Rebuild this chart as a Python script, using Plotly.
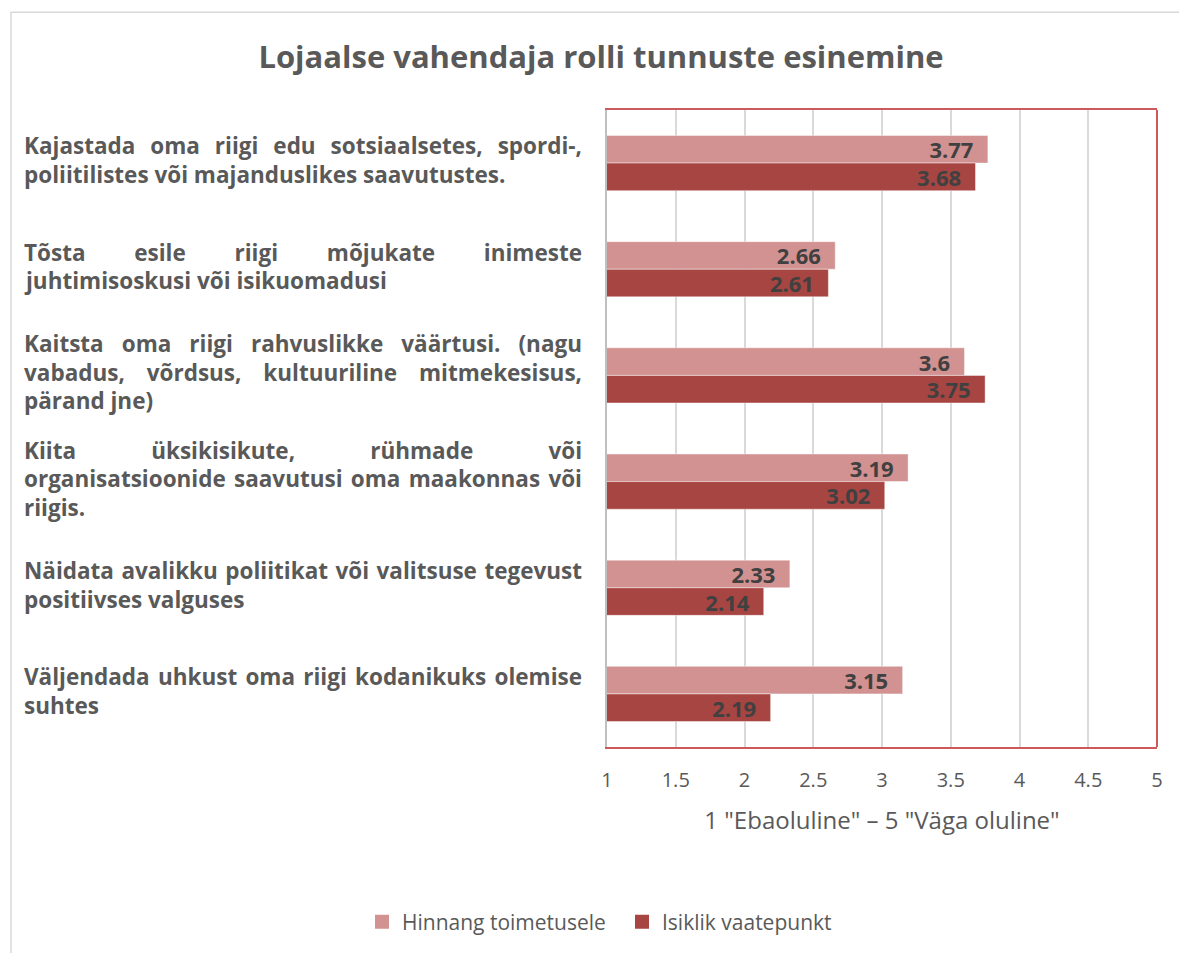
import plotly.graph_objects as go

# ── data ──────────────────────────────────────────────────────────────────────
LABEL_LINES = [
    ["Kajastada oma riigi edu sotsiaalsetes, spordi-,",
     "poliitilistes või majanduslikes saavutustes."],
    ["Tõsta esile riigi mõjukate inimeste",
     "juhtimisoskusi või isikuomadusi"],
    ["Kaitsta oma riigi rahvuslikke väärtusi. (nagu",
     "vabadus, võrdsus, kultuuriline mitmekesisus,",
     "pärand jne)"],
    ["Kiita üksikisikute, rühmade või",
     "organisatsioonide saavutusi oma maakonnas või",
     "riigis."],
    ["Näidata avalikku poliitikat või valitsuse tegevust",
     "positiivses valguses"],
    ["Väljendada uhkust oma riigi kodanikuks olemise",
     "suhtes"],
]
CATEGORIES = [" ".join(lines) for lines in LABEL_LINES]

HINNANG = [3.77, 2.66, 3.6, 3.19, 2.33, 3.15]
ISIKLIK = [3.68, 2.61, 3.75, 3.02, 2.14, 2.19]

SERIES_NAMES = ["Hinnang toimetusele", "Isiklik vaatepunkt"]
X_TICKS = [1, 1.5, 2, 2.5, 3, 3.5, 4, 4.5, 5]

TITLE = "Lojaalse vahendaja rolli tunnuste esinemine"
X_TITLE = '1 "Ebaoluline" – 5 "Väga oluline"'

# ── style ─────────────────────────────────────────────────────────────────────
FONT = "'Open Sans', Lato, sans-serif"
TEXT = "#595959"
VALUE_TEXT = "#404040"
LIGHT = "#D19291"
DARK = "#A74542"
RED_BORDER = "#CC5A5A"
GRID = "#D9D9D9"

W, H = 1179, 953
L, R, T, B = 607, 22, 110, 205
PLOT_W = W - L - R
PLOT_H = H - T - B
LABEL_LEFT = 22
LABEL_RIGHT = 580
LINE_STEP = 28.5


def px_x(x):
    return (x - L) / PLOT_W


def px_y(y):
    return (H - B - y) / PLOT_H


pad = "\u00a0" * 2
fig = go.Figure()
for name, vals, color in [(SERIES_NAMES[0], HINNANG, LIGHT),
                          (SERIES_NAMES[1], ISIKLIK, DARK)]:
    fig.add_trace(go.Bar(
        y=CATEGORIES,
        x=vals,
        orientation="h",
        name=name,
        legendgroup=name,
        showlegend=False,
        marker=dict(color=color, line=dict(color="rgba(255,255,255,0.45)", width=1)),
        text=[f"{v:g}{pad}" for v in vals],
        textposition="inside",
        insidetextanchor="end",
        textangle=0,
        constraintext="none",
        textfont=dict(family=FONT, size=22, color=VALUE_TEXT, weight="bold"),
        hovertemplate="%{y}<br>%{x}<extra>" + name + "</extra>",
    ))
    # legend entry with a larger square swatch
    fig.add_trace(go.Scatter(
        x=[None], y=[None],
        mode="markers",
        name=name,
        legendgroup=name,
        marker=dict(symbol="square", size=14, color=color),
        hoverinfo="skip",
    ))

# category labels, one annotation per line (justified later in the page)
annotations = []
justify_idx = []
for cat, lines in zip(CATEGORIES, LABEL_LINES):
    n = len(lines)
    for i, line in enumerate(lines):
        if i < n - 1:
            justify_idx.append(len(annotations))
        annotations.append(dict(
            text=line,
            xref="paper", yref="y",
            x=px_x(LABEL_LEFT), y=cat,
            xanchor="left", yanchor="middle", align="left",
            yshift=((n - 1) / 2 - i) * LINE_STEP + 3,
            showarrow=False,
            font=dict(family=FONT, size=22.5, color=TEXT, weight="bold"),
        ))

fig.update_layout(
    width=W, height=H,
    margin=dict(l=L, r=R, t=T, b=B),
    paper_bgcolor="white",
    plot_bgcolor="white",
    barmode="group",
    bargap=0.48,
    bargroupgap=0,
    title=dict(
        text=f"<b>{TITLE}</b>",
        x=601 / W, xref="container", xanchor="center",
        y=1 - 57 / H, yref="container", yanchor="middle",
        font=dict(family=FONT, size=31, color=TEXT),
    ),
    xaxis=dict(
        range=[1, 5],
        tickvals=X_TICKS,
        showgrid=True, gridcolor=GRID, gridwidth=2,
        showline=True, linecolor=RED_BORDER, linewidth=2, mirror=True,
        zeroline=False,
        ticks="outside", ticklen=14, tickcolor="rgba(0,0,0,0)",
        tickfont=dict(family=FONT, size=20, color=TEXT),
        title=dict(text=X_TITLE, standoff=20,
                   font=dict(family=FONT, size=24, color=TEXT)),
    ),
    yaxis=dict(
        autorange="reversed",
        showticklabels=False,
        showgrid=False,
        showline=True, linecolor="#BFBFBF", linewidth=1.5,
        ticks="",
    ),
    legend=dict(
        orientation="h",
        x=px_x(622), xanchor="center",
        y=px_y(922), yanchor="middle",
        font=dict(family=FONT, size=21, color=TEXT),
        itemwidth=30,
        entrywidth=215,
        traceorder="normal",
    ),
    showlegend=True,
    annotations=annotations,
    shapes=[
        # right edge of the plot frame
        dict(type="line", xref="paper", yref="paper", x0=1, x1=1, y0=0, y1=1,
             line=dict(color=RED_BORDER, width=2)),
        # outer chart border
        dict(type="rect", xref="paper", yref="paper",
             x0=px_x(11), x1=px_x(1200), y0=px_y(975), y1=px_y(12),
             line=dict(color=GRID, width=1.5), layer="below"),
    ],
)

post = """
document.body.style.margin = '0';
var gd = document.getElementById('{plot_id}');
var JUST = %s;
var TARGET = %f;
function justifyLabels() {
  JUST.forEach(function(i) {
    var t = gd.querySelector('g.annotation[data-index="' + i + '"] text.annotation-text');
    if (!t) return;
    t.style.wordSpacing = '0px';
    var w = t.getComputedTextLength();
    var n = (t.textContent.match(/ /g) || []).length;
    if (n > 0) t.style.wordSpacing = ((TARGET - w) / n) + 'px';
  });
}
justifyLabels();
gd.on('plotly_afterplot', justifyLabels);
""" % (justify_idx, LABEL_RIGHT - LABEL_LEFT)

fig.write_html("out.html", post_script=post, config={"displayModeBar": False})
